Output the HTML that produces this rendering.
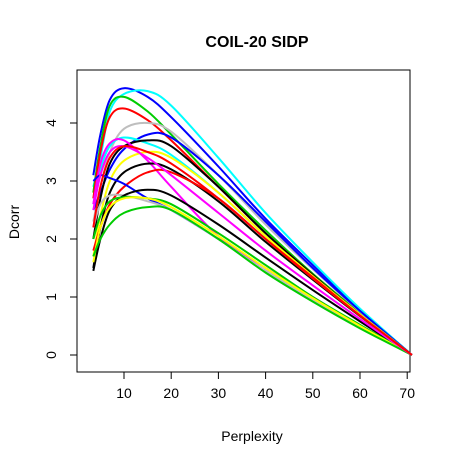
<!DOCTYPE html>
<html><head><meta charset="utf-8"><style>
body{margin:0;background:#fff}
svg{display:block;font-family:"Liberation Sans",Arial,sans-serif}
</style></head><body>
<svg id="c" width="465" height="464">
<text x="257" y="47" text-anchor="middle" font-size="16" font-weight="bold">COIL-20 SIDP</text>
<text x="252" y="441" text-anchor="middle" font-size="14">Perplexity</text>
<text x="0" y="0" transform="translate(19,222) rotate(-90)" text-anchor="middle" font-size="14">Dcorr</text>
<rect x="77" y="70" width="333" height="302" fill="none" stroke="#000"/>
<g id="series"></g>
<g id="axes"></g>
</svg>
<script>
const xGrid=[3.5,5,7,10,15,20,30,40,50,60,71];
const xTicks=[10,20,30,40,50,60,70];
const yTicks=[0,1,2,3,4];
const colors=["blue","cyan","#00cc00","red","#bebebe","blue","cyan","black","magenta","yellow","black","red","blue","#bebebe","black","#00cc00","yellow","#00cc00","magenta","red"];
const s1=[3.1,3.8,4.4,4.6,4.45,4.1,3.25,2.35,1.55,0.78,0];
const s2=[2.9,3.4,4.2,4.5,4.55,4.3,3.4,2.45,1.6,0.8,0];
const s3=[2.8,3.6,4.3,4.45,4.2,3.8,2.95,2.15,1.4,0.72,0];
const s4=[2.7,3.5,4.1,4.25,4.05,3.7,2.9,2.1,1.38,0.7,0];
const s5=[2.3,2.9,3.5,3.9,4.0,3.85,3.1,2.25,1.48,0.75,0];
const s6=[2.5,2.8,3.2,3.55,3.8,3.75,3.1,2.3,1.5,0.76,0];
const s7=[2.6,3.2,3.6,3.75,3.65,3.45,2.8,2.05,1.35,0.7,0];
const s8=[2.0,2.7,3.3,3.6,3.7,3.6,2.9,2.1,1.38,0.7,0];
const s9=[2.6,3.3,3.65,3.7,3.35,2.9,2.05,1.5,1.0,0.5,0];
const s10=[1.7,2.4,3.0,3.35,3.5,3.4,2.8,2.05,1.36,0.7,0];
const s11=[1.5,2.2,2.8,3.15,3.3,3.2,2.65,1.95,1.3,0.67,0];
const s12=[1.8,2.2,2.6,2.9,3.15,3.15,2.7,2.0,1.34,0.68,0];
const s13=[3.0,3.1,3.05,2.95,2.7,2.5,2.0,1.45,0.95,0.5,0];
const s14=[2.2,2.6,2.75,2.75,2.65,2.5,2.0,1.45,0.95,0.5,0];
const s15=[1.45,2.0,2.5,2.75,2.85,2.75,2.25,1.68,1.12,0.58,0];
const s16=[2.0,2.4,2.65,2.72,2.7,2.6,2.1,1.55,1.0,0.52,0];
const s17=[1.6,2.2,2.55,2.7,2.7,2.55,2.05,1.5,0.98,0.5,0];
const s18=[1.7,2.0,2.25,2.45,2.55,2.5,2.0,1.42,0.92,0.46,0];
const s19=[2.5,3.1,3.5,3.6,3.4,3.1,2.45,1.8,1.2,0.62,0];
const s20=[2.2,2.9,3.4,3.6,3.5,3.3,2.7,2.0,1.32,0.68,0];
const series=[s1,s2,s3,s4,s5,s6,s7,s8,s9,s10,s11,s12,s13,s14,s15,s16,s17,s18,s19,s20];
const X=v=>124+(v-10)*4.72, Y=v=>355-v*58;
const NS="http://www.w3.org/2000/svg";
const g=document.getElementById('series');
series.forEach((s,k)=>{
  const p=s.map((v,i)=>[X(xGrid[i]),Y(v)]);
  let d="M"+p[0][0]+","+p[0][1];
  for(let i=0;i<p.length-1;i++){
    const p0=p[Math.max(i-1,0)],p1=p[i],p2=p[i+1],p3=p[Math.min(i+2,p.length-1)];
    d+=` C${p1[0]+(p2[0]-p0[0])/6},${p1[1]+(p2[1]-p0[1])/6} ${p2[0]-(p3[0]-p1[0])/6},${p2[1]-(p3[1]-p1[1])/6} ${p2[0]},${p2[1]}`;
  }
  const el=document.createElementNS(NS,'path');
  el.setAttribute('d',d);el.setAttribute('fill','none');
  el.setAttribute('stroke',colors[k]);el.setAttribute('stroke-width','2');
  
  
  g.appendChild(el);
});
const a=document.getElementById('axes');
let h=`<line x1="${X(10)}" x2="${X(70)}" y1="372" y2="372" stroke="#000"/>`;
xTicks.forEach(t=>{h+=`<line x1="${X(t)}" x2="${X(t)}" y1="372" y2="379" stroke="#000"/><text x="${X(t)}" y="398" text-anchor="middle" font-size="14">${t}</text>`;});
h+=`<line x1="77" x2="77" y1="${Y(0)}" y2="${Y(4)}" stroke="#000"/>`;
yTicks.forEach(t=>{h+=`<line x1="70" x2="77" y1="${Y(t)}" y2="${Y(t)}" stroke="#000"/><text transform="translate(56,${Y(t)}) rotate(-90)" text-anchor="middle" font-size="14">${t}</text>`;});
a.innerHTML=h;
</script>
</body></html>
